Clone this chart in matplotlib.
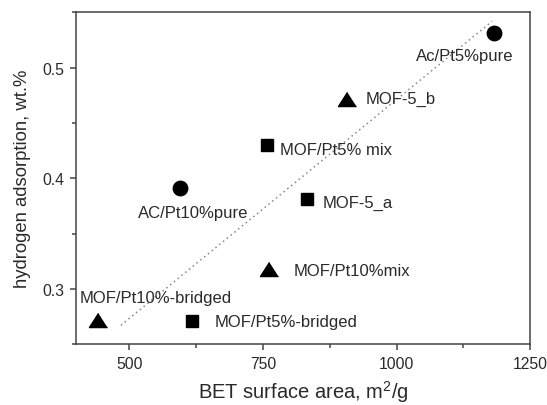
import matplotlib
matplotlib.use("Agg")
import matplotlib.pyplot as plt
from matplotlib.ticker import MultipleLocator

plt.rcParams['font.family'] = ['Liberation Sans', 'DejaVu Sans']
plt.rcParams['mathtext.fontset'] = 'custom'
plt.rcParams['mathtext.rm'] = 'Liberation Sans'

# BET surface area (m2/g) and hydrogen adsorption (wt.%)
labels = ['Ac/Pt5%pure', 'MOF-5_b', 'MOF/Pt5% mix', 'AC/Pt10%pure',
          'MOF-5_a', 'MOF/Pt10%mix', 'MOF/Pt10%-bridged', 'MOF/Pt5%-bridged']
bet = [1183, 908, 758, 594, 832, 761, 442, 618]
h2 = [0.531, 0.472, 0.430, 0.391, 0.381, 0.318, 0.272, 0.271]
kinds = ['o', '^', 's', 'o', 's', '^', '^', 's']

# dotted trend line
trend_x = [484, 1179]
trend_y = [0.267, 0.542]

# label offsets in points, and alignment
offsets = [(-21, -16), (13, 0), (9, -3.5), (9.7, -17.3),
           (11.3, -2.5), (17.5, -1.2), (-13.7, 16.2), (16.3, -0.4)]
aligns = ['center', 'left', 'left', 'center', 'left', 'left', 'left', 'left']

tri = [(0, 0.78), (-1, -0.78), (1, -0.78)]
styles = {'o': ('o', 10.4), 's': ('s', 8.9), '^': (tri, 13)}

fig = plt.figure(figsize=(5.47, 4.06), dpi=100)
ax = fig.add_axes([0.139, 0.150, 0.830, 0.817])

ax.plot(trend_x, trend_y, linestyle=(0, (1, 2.2)), color='#888888', lw=1.1)

for x, y, k, lab, off, ha in zip(bet, h2, kinds, labels, offsets, aligns):
    m, ms = styles[k]
    ax.plot(x, y, marker=m, color='black', ms=ms, linestyle='none')
    ax.annotate(lab, (x, y), xytext=off, textcoords='offset points',
                ha=ha, va='center', fontsize=12, color='#2a2a2a')

ax.set_xlim(400, 1250)
ax.set_ylim(0.25, 0.55)
ax.xaxis.set_minor_locator(MultipleLocator(125))
ax.yaxis.set_minor_locator(MultipleLocator(0.05))
ax.set_xticks([500, 750, 1000, 1250])
ax.set_xticklabels(['500', '750', '1000', '1250'])
ax.set_yticks([0.3, 0.4, 0.5])
ax.set_yticklabels(['0.3', '0.4', '0.5'])

for s in ax.spines.values():
    s.set_color('#444444')
    s.set_linewidth(1.1)
ax.tick_params(which='major', direction='out', length=4.5, width=1.1,
               labelsize=11.3, colors='#444444', labelcolor='#2a2a2a', pad=4)
ax.tick_params(which='minor', direction='out', length=3, width=1.1,
               colors='#444444')

ax.set_xlabel('BET surface area, m$^2$/g', fontsize=14.5, color='#2a2a2a',
              labelpad=5)
ax.set_ylabel('hydrogen adsorption, wt.%', fontsize=13.3, color='#2a2a2a',
              labelpad=8)

fig.savefig('out.png', dpi=100)
